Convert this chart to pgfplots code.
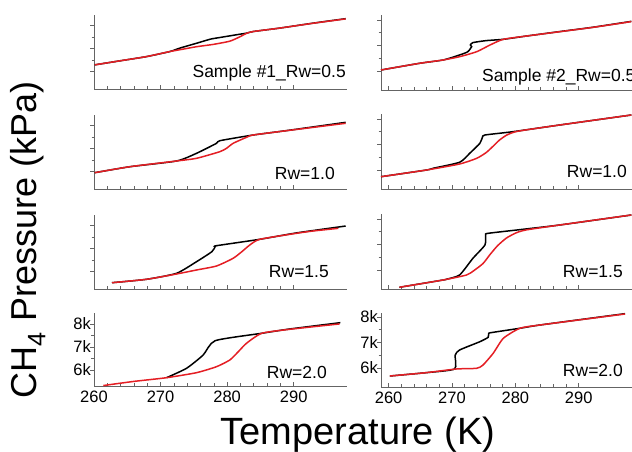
\documentclass[border=0pt]{standalone}
\usepackage{fontspec}
\setmainfont{Liberation Sans}
\usepackage{pgfplots}
\pgfplotsset{compat=1.18}
\definecolor{cred}{RGB}{228,30,36}
\definecolor{axgray}{RGB}{100,100,100}
\newcommand\tickfont{\fontsize{16.5}{18}\selectfont}
\newcommand\lblfont{\fontsize{17.5}{20}\selectfont}
\pgfplotsset{
  panel/.style={
    scale only axis,
    axis lines=left,
    axis line style={-, draw=axgray, line width=0.8pt},
    tick style={draw=axgray, line width=0.6pt},
    tick align=inside,
    major tick length=4pt,
    minor tick length=2.5pt,
    every major y tick/.append style={xshift=-4pt},
    every minor y tick/.append style={xshift=-2.5pt},
    xtick={260,270,280,290},
    minor x tick num=4,
    minor y tick num=1,
    /pgf/number format/assume math mode=true,
    tick label style={font=\tickfont},
    xticklabel style={inner sep=0pt, yshift=-5pt},
    yticklabel style={inner sep=0pt, xshift=-3pt},
    clip=false,
  },
  leftcol/.style={panel, width=253pt, xmin=260, xmax=298},
  rightcol/.style={panel, width=251pt, xmin=258.8, xmax=298.4},
  upper/.style={xticklabels={}, yticklabels={}, ytick={5000,6000,7000}},
  blk/.style={black, line width=1.5pt, smooth, tension=0.35},
  rd/.style={cred, line width=1.5pt, smooth, tension=0.35},
}
\begin{document}
\begin{tikzpicture}
\path[use as bounding box] (0,0) rectangle (632pt,452pt);
% ---------------- Left column ----------------
\begin{axis}[leftcol, upper, at={(94pt,363pt)}, anchor=south west, height=74pt, ymin=4250, ymax=7470]
\addplot[blk] coordinates {(260.1,5300) (264,5480) (267.9,5660) (271.4,5880) (272.9,6030) (275.4,6240) (277.5,6420) (278.9,6490) (281.4,6610) (282.9,6680) (283.9,6750) (287.9,6900) (292.9,7115) (297.8,7310)};
\addplot[rd] coordinates {(260.1,5300) (264,5480) (267.9,5660) (271.4,5880) (273.5,5990) (275.4,6090) (277.9,6190) (280.4,6330) (281.9,6520) (282.9,6670) (283.9,6750) (287.9,6900) (292.9,7110) (297.8,7300)};
\end{axis}
\begin{axis}[leftcol, upper, at={(94pt,263pt)}, anchor=south west, height=74pt, ymin=4250, ymax=7470]
\addplot[blk] coordinates {(260.1,4959) (265.4,5220) (272.4,5468) (275.4,5803) (278.4,6238) (278.9,6351) (283.9,6599) (288.9,6790) (297.8,7150)};
\addplot[rd] coordinates {(260.1,4959) (265.4,5220) (272.4,5468) (275.4,5585) (278.9,5873) (279.9,6020) (280.9,6238) (282.9,6499) (283.9,6599) (288.9,6786) (297.8,7108)};
\end{axis}
\begin{axis}[leftcol, upper, at={(94pt,163pt)}, anchor=south west, height=74pt, ymin=4250, ymax=7470]
\addplot[blk] coordinates {(262.7,4524) (267.9,4672) (272.4,4933) (275.4,5438) (277.7,5873) (278.2,6090) (278.4,6134) (284.9,6412) (290.4,6690) (297.8,6990)};
\addplot[rd] coordinates {(262.7,4524) (267.9,4672) (272.4,4903) (275.4,5077) (278.4,5251) (280.9,5586) (282.2,5873) (283.4,6164) (284.9,6412) (290.4,6673) (292.9,6773) (296.7,6890)};
\end{axis}
\begin{axis}[leftcol, at={(94pt,66pt)}, anchor=south west, height=73pt, ymin=5300, ymax=8475,
  ytick={6000,7000,8000}, yticklabels={6k,7k,8k}]
\addplot[blk] coordinates {(270.9,5661) (273.9,6070) (276.4,6649) (278.2,7271) (285.2,7593) (289.4,7780) (297,8054)};
\addplot[rd] coordinates {(261.4,5320) (266,5500) (270.9,5661) (275.4,5879) (278.4,6140) (280.4,6431) (281.7,6800) (282.9,7157) (285.2,7593) (289.4,7766) (296.9,8000)};
\end{axis}
% ---------------- Right column ----------------
\begin{axis}[rightcol, upper, at={(381pt,362pt)}, anchor=south west, height=75pt, ymin=4250, ymax=7190]
\addplot[blk] coordinates {(258.8,5034) (264.9,5297) (268.6,5426) (271.2,5622) (272.5,5751) (273.1,5951) (272.9,6014) (273.3,6108) (275.4,6186) (278.1,6237) (281.8,6367) (287,6540) (292.3,6712) (298.3,6940)};
\addplot[rd] coordinates {(258.8,5034) (264.9,5297) (268.6,5426) (271.2,5555) (273.9,5751) (276.0,6014) (278.1,6237) (281.8,6367) (287.0,6535) (292.3,6707) (298.3,6931)};
\end{axis}
\begin{axis}[rightcol, upper, at={(381pt,263pt)}, anchor=south west, height=75pt, ymin=4250, ymax=7190]
\addplot[blk] coordinates {(258.8,4732) (266.0,4995) (267.0,5061) (271.2,5297) (272.8,5650) (274.4,6041) (274.8,6277) (275.2,6367) (279.6,6496) (287,6759) (298.3,7151)};
\addplot[rd] coordinates {(258.8,4732) (266.0,4995) (271.2,5230) (273.9,5453) (275.4,5680) (276.5,5930) (277.5,6170) (278.6,6360) (279.8,6480) (281.5,6560) (287.0,6759) (298.3,7151)};
\end{axis}
\begin{axis}[rightcol, upper, at={(381pt,163pt)}, anchor=south west, height=75pt, ymin=4250, ymax=7190]
\addplot[blk] coordinates {(261.7,4317) (268.6,4603) (269.1,4630) (271.2,4799) (273.3,5453) (275.2,5975) (275.3,6367) (275.7,6433) (281.2,6590) (287,6759) (298.3,7151)};
\addplot[rd] coordinates {(261.7,4317) (268.6,4603) (272.3,4799) (273.5,4980) (274.9,5250) (276.0,5600) (277.2,5950) (278.6,6250) (280.2,6460) (281.8,6570) (287.0,6759) (298.3,7151)};
\end{axis}
\begin{axis}[rightcol, at={(381pt,65pt)}, anchor=south west, height=74pt, ymin=5255, ymax=8156,
  ytick={6000,7000,8000}, yticklabels={6k,7k,8k}]
\addplot[blk] coordinates {(260.2,5686) (265.9,5816) (270.4,5960) (270.5,6500) (271.2,6706) (274.4,7031) (275.7,7203) (275.8,7360) (276.5,7399) (280.7,7556) (283.9,7686) (297.3,8130)};
\addplot[rd] coordinates {(260.2,5686) (265.9,5816) (270.7,5961) (273.9,5988) (274.9,6118) (276.5,6576) (278.1,7164) (280.7,7556) (283.9,7686) (297.3,8117)};
\end{axis}
% ---------------- Labels ----------------
\node[anchor=base east, inner sep=0pt, font=\lblfont] at (346pt,374pt) {Sample \#1\_Rw=0.5};
\node[anchor=base west, inner sep=0pt, font=\lblfont] at (482pt,370pt) {Sample \#2\_Rw=0.5};
\node[anchor=base east, inner sep=0pt, font=\lblfont] at (335pt,272pt) {Rw=1.0};
\node[anchor=base east, inner sep=0pt, font=\lblfont] at (627pt,274pt) {Rw=1.0};
\node[anchor=base east, inner sep=0pt, font=\lblfont] at (329pt,174pt) {Rw=1.5};
\node[anchor=base east, inner sep=0pt, font=\lblfont] at (623pt,174pt) {Rw=1.5};
\node[anchor=base east, inner sep=0pt, font=\lblfont] at (327pt,73pt) {Rw=2.0};
\node[anchor=base east, inner sep=0pt, font=\lblfont] at (623pt,75pt) {Rw=2.0};
\node[anchor=base, inner sep=0pt, font=\fontsize{38}{40}\selectfont] at (358pt,7pt) {Temperature (K)};
\node[rotate=90, anchor=center, inner sep=0pt, font=\fontsize{36}{40}\selectfont] at (28pt,212pt) {CH\textsubscript{4} Pressure (kPa)};
\end{tikzpicture}
\end{document}
